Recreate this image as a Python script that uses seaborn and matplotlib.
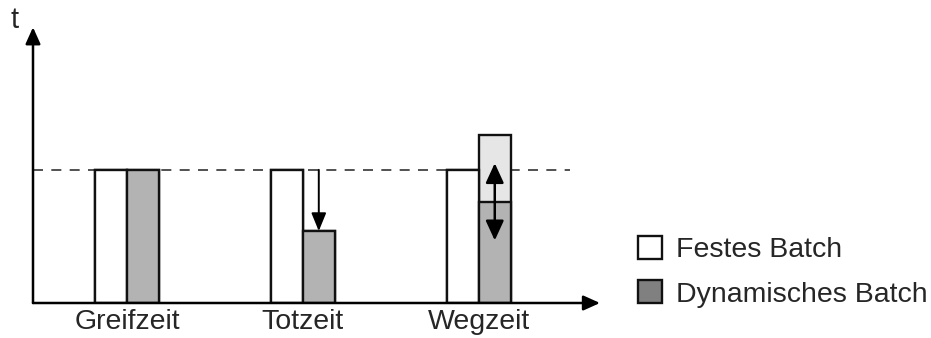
import numpy as np
import pandas as pd
import matplotlib
matplotlib.use("Agg")
import matplotlib.pyplot as plt
from matplotlib.patches import Patch
import seaborn as sns

# data
kategorien = ["Greifzeit", "Totzeit", "Wegzeit"]
festes = [1.0, 1.0, 1.0]
dynamisch = [1.0, 0.54, 0.76]
dynamisch_max = [1.0, 0.54, 1.26]   # helle Spanne bei Wegzeit
pfeil_tot = (1.0, 0.54)             # Pfeil nach unten bei Totzeit
pfeil_weg = (1.05, 0.47)            # Doppelpfeil bei Wegzeit
legende = ["Festes Batch", "Dynamisches Batch"]

sns.set_style("white")
plt.rcParams["font.family"] = ["Liberation Sans", "DejaVu Sans"]

df_max = pd.DataFrame({"Kategorie": kategorien * 2,
                       "Batch": [legende[0]] * 3 + [legende[1]] * 3,
                       "t": festes + dynamisch_max})
df = pd.DataFrame({"Kategorie": kategorien * 2,
                   "Batch": [legende[0]] * 3 + [legende[1]] * 3,
                   "t": festes + dynamisch})

fig = plt.figure(figsize=(9.31, 3.38), dpi=100)
ax = fig.add_axes([33 / 931, 1 - 303 / 338, 567 / 931, 273 / 338])

w = 0.36
sns.barplot(data=df_max, x="Kategorie", y="t", hue="Batch", width=w,
            palette=["white", "#e6e6e6"], edgecolor="#111111", linewidth=1.7,
            legend=False, ax=ax, zorder=2)
sns.barplot(data=df, x="Kategorie", y="t", hue="Batch", width=w,
            palette=["white", "#b3b3b3"], edgecolor="#111111", linewidth=1.7,
            legend=False, ax=ax, zorder=3)

ax.set_xlim(-0.534, 2.688)
ax.set_ylim(0, 2.05)
for s in ax.spines.values():
    s.set_visible(False)
ax.set_yticks([])
ax.set_xticks(range(3))
ax.set_xticklabels(kategorien, fontsize=20.5)
ax.tick_params(axis="x", length=0, pad=4)
ax.set_xlabel("")
ax.set_ylabel("")

# gestrichelte Linie
ax.plot([-0.534, 2.517], [1.0, 1.0], ls=(0, (6, 5)), color="#333333", lw=1.2, zorder=1)

# Achsen mit Pfeilen
ax.annotate("", xy=(0, 1.01), xytext=(0, 0), xycoords="axes fraction",
            arrowprops=dict(arrowstyle="-|>,head_length=1.0,head_width=0.45",
                            color="black", lw=1.8, shrinkA=0, shrinkB=0))
ax.annotate("", xy=(1.0, 0), xytext=(0, 0), xycoords="axes fraction",
            arrowprops=dict(arrowstyle="-|>,head_length=1.0,head_width=0.45",
                            color="black", lw=1.8, shrinkA=0, shrinkB=0))
fig.text(15 / 931, 1 - 20 / 338, "t", fontsize=21, ha="center", va="center")

# Pfeile
ax.annotate("", xy=(1 + w / 4, pfeil_tot[1]), xytext=(1 + w / 4, pfeil_tot[0]),
            arrowprops=dict(arrowstyle="-|>,head_length=1.1,head_width=0.45",
                            color="black", lw=1.4, shrinkA=0, shrinkB=0), zorder=5)
ax.annotate("", xy=(2 + w / 4, pfeil_weg[1]), xytext=(2 + w / 4, pfeil_weg[0]),
            arrowprops=dict(arrowstyle="<|-|>,head_length=1.2,head_width=0.55",
                            color="black", lw=1.8, shrinkA=0, shrinkB=0), zorder=5)

handles = [Patch(facecolor="white", edgecolor="#111111", lw=1.7),
           Patch(facecolor="#808080", edgecolor="#111111", lw=1.7)]
fig.legend(handles, legende, loc="upper left", bbox_to_anchor=(638 / 931, 1 - 236 / 338),
           frameon=False, fontsize=20.5, handlelength=0.85, handleheight=0.85,
           handletextpad=0.5, labelspacing=0.6, borderpad=0, borderaxespad=0)

fig.savefig("out.png", dpi=100, facecolor="white")
